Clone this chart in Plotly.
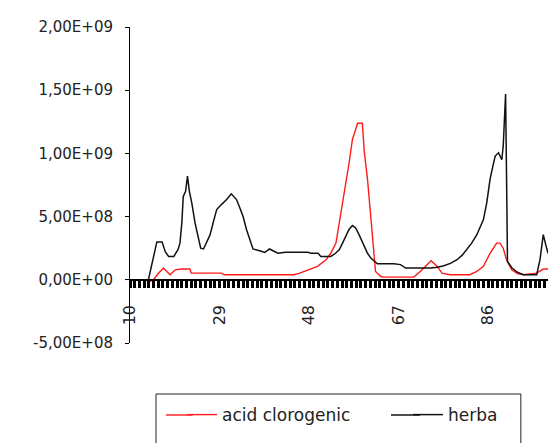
import plotly.graph_objects as go

# ---- data (values in raw units) ----
herba_x = [13.9, 14.8, 15.7, 16.8, 17.5, 18.2, 19.3, 20.2, 20.6, 21.0, 21.3, 21.8, 22.2, 22.6, 23.1,
           23.8, 24.5, 25.0, 25.6, 26.2, 27.0, 27.7, 28.4, 29.4, 30.5, 31.5, 32.0, 32.6, 33.3, 34.0,
           34.7, 35.4, 36.1, 37.5, 38.6, 39.6, 40.5, 41.4, 43.0, 45.0, 47.8, 48.4, 49.9, 50.5, 52.6,
           53.6, 54.4, 55.1, 55.8, 56.5, 57.2, 57.9, 58.6, 59.7, 60.4, 61.1, 62.5, 64.0, 66.0, 67.4,
           68.5, 70.0, 72.0, 73.8, 75.2, 76.6, 78.0, 79.4, 80.5, 81.5, 82.5, 83.6, 84.3, 85.0, 85.7,
           86.4, 87.0, 87.5, 88.2, 88.9, 89.2, 89.5, 89.7, 90.0, 90.1, 91.0, 92.2, 93.5, 95.0, 96.3,
           97.0, 97.7, 98.2, 98.7]
herba_y = [0.0e8, 1.5e8, 3.0e8, 3.0e8, 2.2e8, 1.85e8, 1.85e8, 2.4e8, 2.9e8, 4.5e8, 6.6e8, 7.0e8, 8.2e8, 7.0e8, 6.1e8,
           4.5e8, 3.2e8, 2.5e8, 2.44e8, 2.9e8, 3.57e8, 4.6e8, 5.56e8, 5.95e8, 6.35e8, 6.8e8, 6.6e8, 6.35e8, 5.7e8, 5.0e8,
           4.0e8, 3.17e8, 2.44e8, 2.3e8, 2.17e8, 2.44e8, 2.3e8, 2.1e8, 2.17e8, 2.17e8, 2.17e8, 2.1e8, 2.1e8, 1.85e8, 1.85e8,
           2.1e8, 2.38e8, 2.9e8, 3.44e8, 4.0e8, 4.29e8, 4.1e8, 3.57e8, 2.65e8, 2.1e8, 1.72e8, 1.27e8, 1.27e8, 1.27e8, 1.2e8,
           0.93e8, 0.93e8, 0.93e8, 0.93e8, 1.0e8, 1.11e8, 1.3e8, 1.59e8, 1.95e8, 2.38e8, 2.9e8, 3.57e8, 4.1e8, 4.76e8, 6.09e8,
           7.94e8, 9.0e8, 9.79e8, 10.05e8, 9.5e8, 10.6e8, 13.0e8, 14.7e8, 5.0e8, 1.45e8, 0.95e8, 0.6e8, 0.4e8, 0.4e8, 0.4e8,
           1.59e8, 3.57e8, 2.8e8, 2.1e8]

acid_x = [14.0, 15.2, 16.0, 17.1, 18.5, 19.6, 21.0, 22.7, 23.0, 26.0, 29.4, 30.0, 35.0, 40.0, 44.8,
          46.0, 47.7, 49.8, 51.6, 52.6, 53.7, 54.4, 55.4, 56.5, 57.2, 58.3, 59.3, 59.7, 60.4, 61.1,
          61.8, 62.1, 63.2, 63.9, 67.0, 70.2, 71.6, 73.0, 73.9, 75.2, 76.2, 77.9, 80.0, 82.1, 83.6,
          85.0, 86.4, 87.8, 88.5, 89.2, 89.9, 91.0, 92.2, 93.5, 96.3, 97.7, 98.7]
acid_y = [-0.2e8, 0.1e8, 0.5e8, 0.93e8, 0.4e8, 0.79e8, 0.85e8, 0.85e8, 0.53e8, 0.53e8, 0.53e8, 0.4e8, 0.4e8, 0.4e8, 0.4e8,
          0.53e8, 0.79e8, 1.06e8, 1.59e8, 2.1e8, 2.9e8, 4.5e8, 6.6e8, 9.26e8, 11.1e8, 12.38e8, 12.38e8, 10.2e8, 7.94e8, 4.76e8,
          2.1e8, 0.66e8, 0.26e8, 0.21e8, 0.21e8, 0.21e8, 0.66e8, 1.19e8, 1.51e8, 1.06e8, 0.53e8, 0.4e8, 0.4e8, 0.4e8, 0.66e8,
          1.06e8, 2.1e8, 2.9e8, 2.9e8, 2.5e8, 1.59e8, 0.79e8, 0.5e8, 0.4e8, 0.53e8, 0.85e8, 0.85e8]

y_tickvals = [-5e8, 0, 5e8, 1e9, 1.5e9, 2e9]
y_ticktext = ["-5,00E+08", "0,00E+00", "5,00E+08", "1,00E+09", "1,50E+09", "2,00E+09"]
x_tickvals = [10, 29, 48, 67, 86]
x_ticktext = ["10", "29", "48", "67", "86"]

FONT = "DejaVu Sans"
RED = "#ff1a1a"
BLACK = "#111111"

fig = go.Figure()
fig.add_trace(go.Scatter(x=acid_x, y=acid_y, mode="lines", name="acid clorogenic",
                         line=dict(color=RED, width=1.4), legend="legend"))
fig.add_trace(go.Scatter(x=herba_x, y=herba_y, mode="lines", name="herba",
                         line=dict(color=BLACK, width=1.5), legend="legend2"))

# legend frame
fig.add_shape(type="rect", xref="paper", yref="paper",
              x0=0.0622, x1=0.935, y0=-0.34, y1=-0.1614,
              line=dict(color="#222", width=1), fillcolor="rgba(0,0,0,0)")
# longer legend keys (extensions of the legend key lines)
KEY_Y = -0.2278
fig.add_shape(type="line", xref="paper", yref="paper", x0=0.0861, x1=0.150, y0=KEY_Y, y1=KEY_Y,
              line=dict(color=RED, width=1.4))
fig.add_shape(type="line", xref="paper", yref="paper", x0=0.6244, x1=0.694, y0=KEY_Y, y1=KEY_Y,
              line=dict(color=BLACK, width=1.5))

legend_common = dict(orientation="h", yanchor="middle", y=-0.228, xanchor="left",
                     bgcolor="rgba(0,0,0,0)", borderwidth=0,
                     font=dict(family=FONT, size=17, color="#222"))

fig.update_layout(
    width=551, height=443,
    margin=dict(l=130, r=3, t=27, b=100),
    paper_bgcolor="white", plot_bgcolor="white",
    font=dict(family=FONT, size=15, color="#222"),
    showlegend=True,
    legend=dict(x=0.1244, **legend_common),
    legend2=dict(x=0.665, **legend_common),
    xaxis=dict(range=[10, 98.7], anchor="free", position=0.2,
               showgrid=False, zeroline=False,
               showline=True, linecolor="black", linewidth=1.5,
               tickmode="array", tickvals=x_tickvals, ticktext=x_ticktext,
               tickangle=-90, ticks="outside", ticklen=7, tickwidth=2.5, tickcolor="black",
               ticklabelstandoff=11,
               minor=dict(dtick=1, tick0=10, ticks="outside", ticklen=7, tickwidth=2.5, tickcolor="black"),
               tickfont=dict(family=FONT, size=16, color="#222")),
    yaxis=dict(range=[-5e8, 2e9], showgrid=False, zeroline=False,
               showline=True, linecolor="black", linewidth=1,
               tickmode="array", tickvals=y_tickvals, ticktext=y_ticktext,
               ticks="outside", ticklen=4, tickcolor="black",
               ticklabelstandoff=9,
               tickfont=dict(family=FONT, size=15, color="#222")),
)

fig.write_html("out.html")
